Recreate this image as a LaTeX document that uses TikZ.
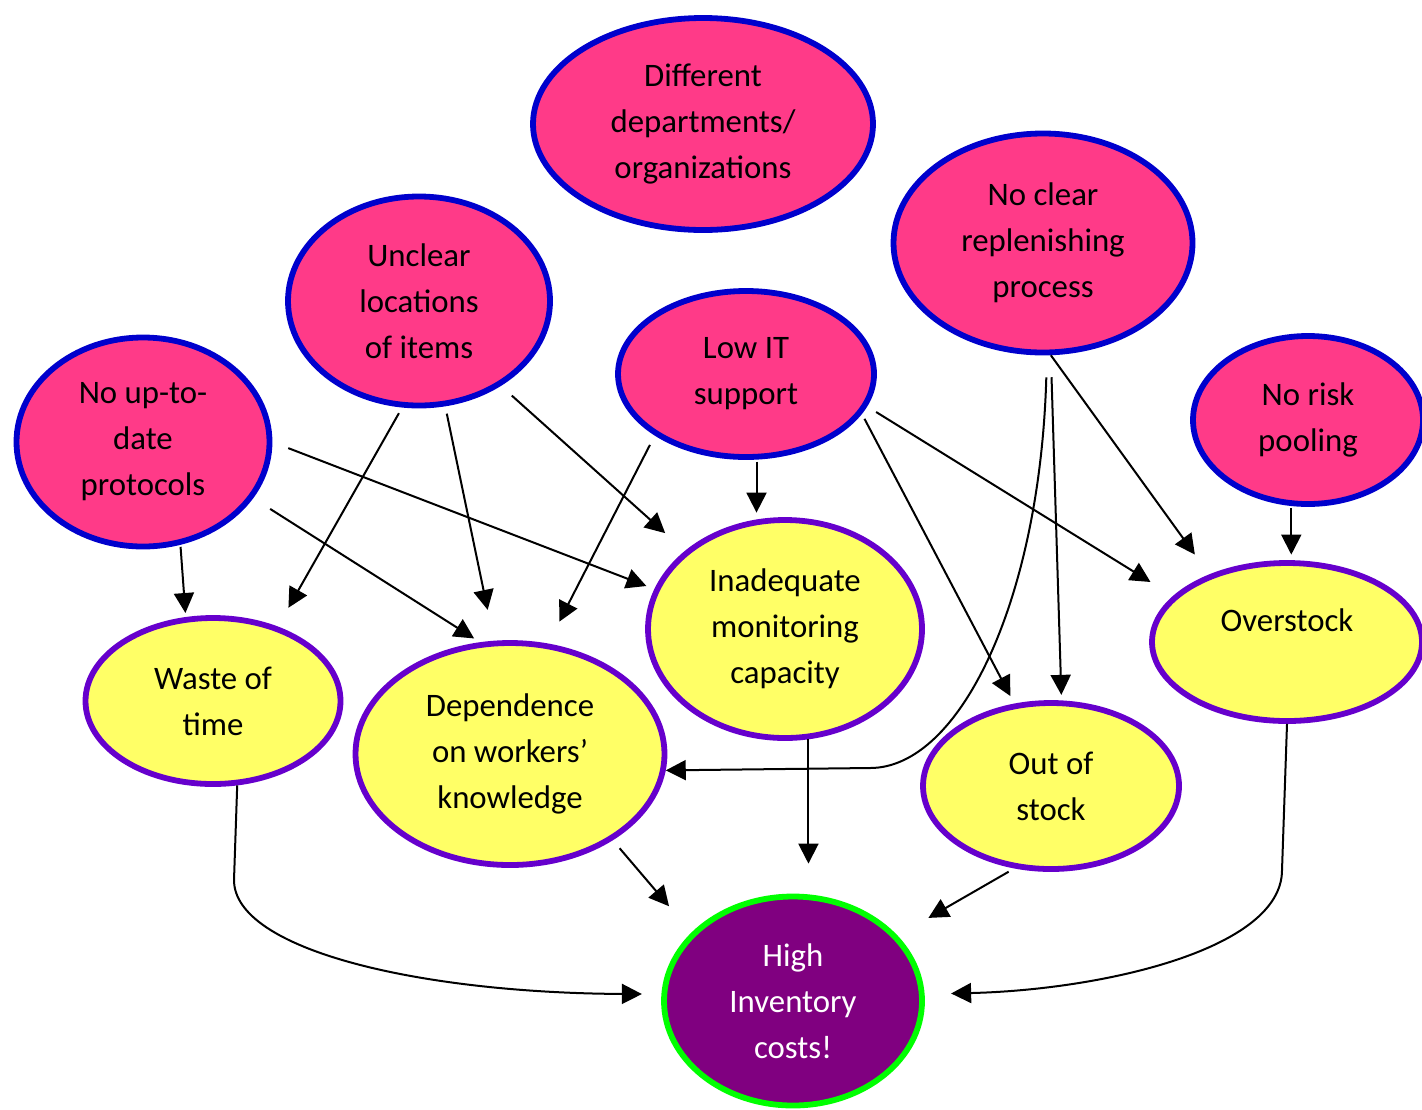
\documentclass[tikz,border=0pt]{standalone}
\usepackage{fontspec}
\setmainfont{Carlito}
\usetikzlibrary{shapes.geometric,arrows.meta}
\definecolor{pinkfill}{RGB}{255,58,136}
\definecolor{causeblue}{RGB}{0,0,204}
\definecolor{effyellow}{RGB}{255,255,102}
\definecolor{effpurple}{RGB}{102,0,204}
\definecolor{finpurple}{RGB}{128,0,128}
\definecolor{fingreen}{RGB}{0,255,0}
\newcommand\dtext{\fontsize{16.4}{23}\selectfont}
\begin{document}
\begin{tikzpicture}[x=0.5pt,y=-0.5pt,
  base/.style={ellipse, line width=2.9pt, inner sep=0pt, align=center, font=\dtext},
  cause/.style={base, draw=causeblue, fill=pinkfill},
  effect/.style={base, draw=effpurple, fill=effyellow},
  final/.style={base, draw=fingreen, fill=finpurple, text=white},
  arr/.style={-{Triangle[width=10pt,length=10pt]}, line width=1pt, black}]
\useasboundingbox (0,0) rectangle (1422,1109);

\node[cause, minimum width=170pt, minimum height=106pt] (diff) at (703,124) {Different\\departments/\\organizations};
\node[cause, minimum width=149.5pt, minimum height=109.5pt] (noclear) at (1043,243) {No clear\\replenishing\\process};
\node[cause, minimum width=131pt, minimum height=104.5pt] (unclear) at (419,301) {Unclear\\locations\\of items};
\node[cause, minimum width=128pt, minimum height=83pt] (lowit) at (746,374) {Low IT\\support};
\node[cause, minimum width=126.5pt, minimum height=104.5pt] (proto) at (143,442) {No up-to-\\date\\protocols};
\node[cause, minimum width=115pt, minimum height=84pt] (norisk) at (1308,420) {No risk\\pooling};
\node[effect, minimum width=127.5pt, minimum height=83pt] (waste) at (213,701) {Waste of\\time};
\node[effect, minimum width=154.5pt, minimum height=111pt] (depend) at (510,754) {Dependence\\on workers’\\knowledge};
\node[effect, minimum width=137pt, minimum height=109pt] (inadeq) at (785,629) {Inadequate\\monitoring\\capacity};
\node[effect, minimum width=135pt, minimum height=79pt, label={[font=\dtext, yshift=11pt]center:Overstock}] (over) at (1287,642) {};
\node[effect, minimum width=128pt, minimum height=83pt] (outstock) at (1051,786) {Out of\\stock};
\node[final, minimum width=129pt, minimum height=104.5pt] (high) at (793,1001) {High\\Inventory\\costs!};

\coordinate (kbend) at (870,768);
\coordinate (rbend) at (234,880);
\coordinate (sbend) at (1282,870);

% from No up-to-date protocols
\draw[arr, shorten <=1pt, shorten >=2pt] (proto.-70) -- (waste.108);
\draw[arr, shorten <=10pt, shorten >=3.5pt] (proto.-27) -- (depend.105);
\draw[arr, shorten <=8.5pt, shorten >=4.25pt] (proto.0) -- (inadeq.163);
% from Unclear locations
\draw[arr, shorten <=3.25pt, shorten >=10.75pt] (unclear.-99) -- (waste.49);
\draw[arr, shorten <=3.75pt, shorten >=15.75pt] (unclear.-76) -- (depend.98);
\draw[arr, shorten <=7.25pt, shorten >=13.25pt] (unclear.-46) -- (inadeq.142);
% from Low IT support
\draw[arr, shorten <=5.25pt, shorten >=12.25pt] (lowit.214) -- (depend.71);
\draw[arr, shorten <=1pt, shorten >=2.25pt] (lowit.-83) -- (lowit.-83 |- inadeq.north);
\draw[arr, shorten <=2.75pt, shorten >=4.25pt] (lowit.-19) -- (outstock.114);
\draw[arr, shorten <=5.25pt, shorten >=13.25pt] (lowit.-15) -- (over.158);
% from No clear replenishing process
\draw[arr, shorten <=11pt] (noclear.-88) .. controls (1040,600) and (960,768) .. (kbend) -- (depend.-6);
\draw[arr, shorten <=11pt, shorten >=2.75pt] (noclear.-86) -- (outstock.83);
\draw[arr, shorten >=12.25pt] (noclear.-86.5) -- (over.139);
% from No risk pooling
\draw[arr, shorten <=1pt, shorten >=2.75pt] (norisk.-101) -- (norisk.-101 |- over.north);
% to High Inventory costs
\draw[arr, shorten >=15pt] (inadeq.-78) -- (inadeq.-78 |- high.north);
\draw[arr, shorten <=5.25pt, shorten >=17.25pt] (depend.-40) -- (high.146);
\draw[arr, shorten <=3.25pt, shorten >=17.75pt] (outstock.-114) -- (high.32);
\draw[arr, shorten >=9.75pt] (waste.-74) -- (rbend) .. controls (234,950) and (420,993) .. (high.177);
\draw[arr, shorten >=13.25pt] (over.-90) -- (sbend) .. controls (1282,950) and (1100,990) .. (high.3);
\end{tikzpicture}
\end{document}
